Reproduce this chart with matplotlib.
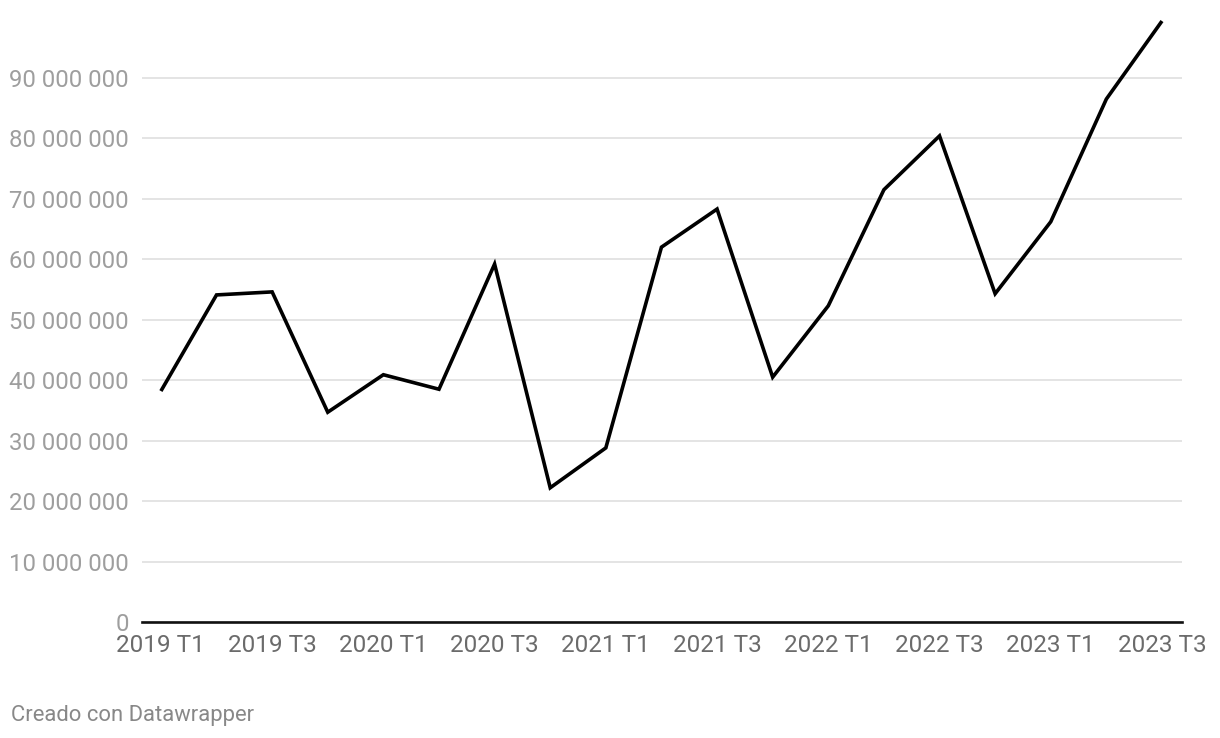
import matplotlib

matplotlib.use("Agg")
import matplotlib.pyplot as plt
from matplotlib.ticker import FuncFormatter

plt.rcParams["font.family"] = ["Roboto", "DejaVu Sans"]

quarters = [
    "2019 T1", "2019 T2", "2019 T3", "2019 T4",
    "2020 T1", "2020 T2", "2020 T3", "2020 T4",
    "2021 T1", "2021 T2", "2021 T3", "2021 T4",
    "2022 T1", "2022 T2", "2022 T3", "2022 T4",
    "2023 T1", "2023 T2", "2023 T3",
]
values = [
    38.2e6, 54.1e6, 54.6e6, 34.7e6,
    40.9e6, 38.5e6, 59.2e6, 22.2e6,
    28.8e6, 62.0e6, 68.3e6, 40.5e6,
    52.3e6, 71.5e6, 80.4e6, 54.3e6,
    66.2e6, 86.5e6, 99.4e6,
]
y_ticks = [0, 10e6, 20e6, 30e6, 40e6, 50e6, 60e6, 70e6, 80e6, 90e6]

fig = plt.figure(figsize=(12.2, 7.38), dpi=100)
ax = fig.add_axes([142 / 1220, 1 - 622 / 738, 1040 / 1220, 607 / 738])

x = list(range(len(quarters)))
ax.plot(x, values, color="black", linewidth=2.6, solid_joinstyle="miter",
        solid_capstyle="butt", zorder=3)

ax.set_xlim(-0.34, 18.36)
ax.set_ylim(0, 100.4e6)
ax.set_yticks(y_ticks)
ax.yaxis.set_major_formatter(FuncFormatter(lambda v, p: f"{int(v):,}".replace(",", " ")))
ax.set_xticks(x[::2])
ax.set_xticklabels(quarters[::2])

ax.grid(axis="y", color="#e2e2e2", linewidth=1.3)
ax.set_axisbelow(True)
for s in ["top", "right", "left"]:
    ax.spines[s].set_visible(False)
ax.spines["bottom"].set_color("#111111")
ax.spines["bottom"].set_linewidth(1.9)
ax.spines["bottom"].set_zorder(4)

ax.tick_params(axis="y", length=0, pad=9.4, labelsize=17.2, labelcolor="#9e9e9e")
ax.tick_params(axis="x", length=0, pad=9, labelsize=17.5, labelcolor="#6b6b6b")

fig.text(11 / 1220, 1 - 715 / 738, "Creado con Datawrapper", fontsize=15.8,
         color="#888888", ha="left", va="center")

fig.savefig("out.png", dpi=100)
plt.close(fig)
